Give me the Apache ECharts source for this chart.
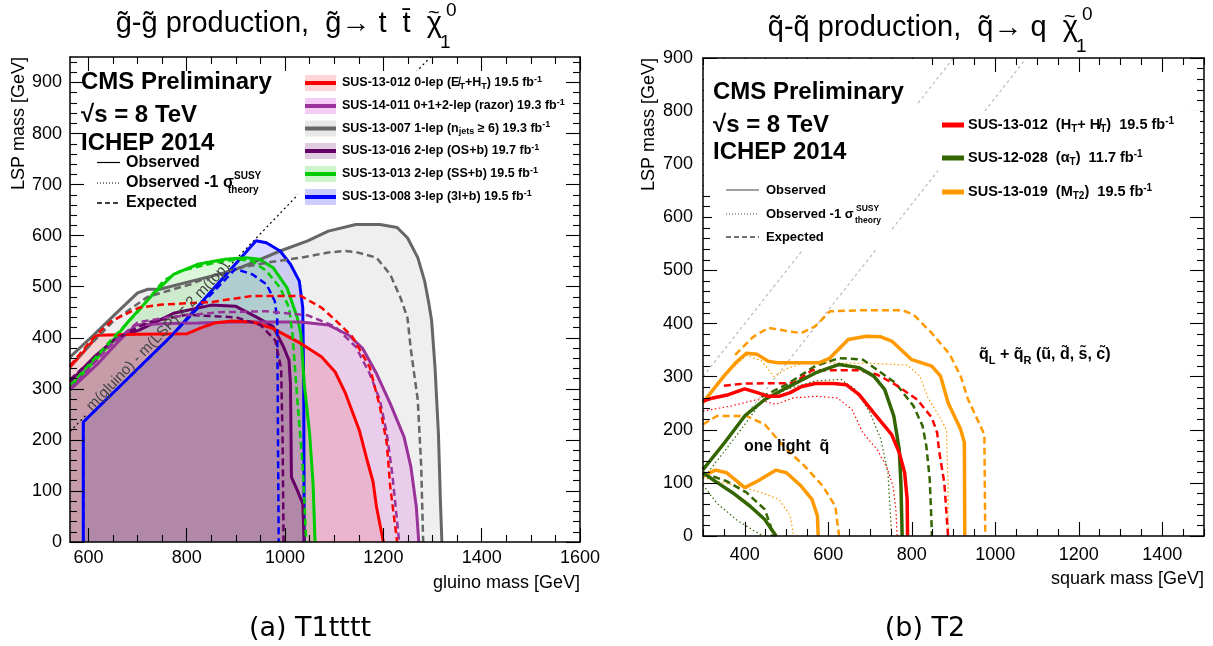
<!DOCTYPE html>
<html><head><meta charset="utf-8">
<script src="https://cdn.jsdelivr.net/npm/echarts@6.0.0/dist/echarts.min.js"></script>
<style>html,body{margin:0;padding:0;background:#fff;}#chart{width:1213px;height:646px;}</style>
</head><body><div id="chart"></div>
<script>
// ================= Tick labels =================
const xTicksL = [600, 800, 1000, 1200, 1400, 1600];
const yTicksL = [0, 100, 200, 300, 400, 500, 600, 700, 800, 900];
const xTicksR = [400, 600, 800, 1000, 1200, 1400];
const yTicksR = [0, 100, 200, 300, 400, 500, 600, 700, 800, 900];

// ================= Left panel (T1tttt): [gluino mass, LSP mass] =================
const sus13007Obs = [[562.5,362],[610,405],[654,446],[700,488],[721,495],[745,495],[822,514],[892,531],[934,547],[990,570],[1046,590],[1088,609],[1144,622],[1193,622],[1228,616],[1249,596],[1270,557],[1284,511],[1292,470],[1298,435],[1305,343],[1312,212],[1316,82],[1319,0]];
const sus13007Exp = [[562.5,345],[650,432],[720,480],[808,505],[843,518],[906,537],[962,547],[1032,557],[1088,567],[1123,570],[1144,568],[1186,557],[1214,524],[1235,478],[1249,439],[1256,376],[1270,278],[1277,147],[1281,0]];
const sus14011Obs = [[562.5,298],[620,350],[660,392],[696,425],[760,428],[822,429],[900,431],[962,431],[1032,431],[1088,425],[1130,405],[1158,379],[1186,330],[1214,271],[1242,206],[1256,147],[1267,69],[1272,0]];
const sus14011Exp = [[562.5,300],[650,390],[700,430],[760,440],[864,450],[960,452],[1046,444],[1102,422],[1144,382],[1172,330],[1193,278],[1207,212],[1218,134],[1225,69],[1232,0]];
const sus13012Obs = [[562.5,343],[590,372],[619,405],[700,407],[801,408],[830,420],[857,429],[892,433],[934,431],[976,418],[1032,389],[1074,363],[1102,333],[1123,291],[1151,219],[1165,167],[1179,118],[1186,69],[1200,0]];
const sus13012Exp = [[562.5,345],[610,400],[647,433],[703,459],[750,465],[850,470],[934,482],[1032,482],[1074,459],[1102,435],[1137,402],[1172,343],[1193,265],[1207,193],[1214,108],[1228,0]];
const sus13016Obs = [[562.5,314],[612,363],[661,402],[703,415],[773,448],[850,464],[899,462],[941,441],[976,422],[997,382],[1008,356],[1011,310],[1013,127],[1025,101],[1036,75],[1039,0]];
const sus13016Exp = [[562.5,318],[650,395],[720,430],[800,445],[900,440],[950,425],[980,395],[992,340],[995,200],[997,0]];
const sus13013Obs = [[562.5,302],[610,352],[650,395],[682,433],[731,485],[773,524],[822,544],[878,554],[920,557],[948,554],[976,537],[1004,498],[1025,439],[1032,408],[1039,310],[1050,212],[1057,114],[1061,0]];
const sus13013Exp = [[562.5,306],[650,400],[700,450],[752,511],[787,531],[857,547],[906,554],[934,550],[962,531],[990,498],[1008,459],[1015,408],[1025,278],[1036,147],[1043,0]];
const sus13008Obs = [[589.5,0],[589.5,235],[773,408],[941,590],[962,586],[990,570],[1011,544],[1029,511],[1036,459],[1038,300],[1039,0]];
const sus13008Exp = [[589.5,0],[589.5,235],[760,395],[899,535],[934,524],[962,505],[979,472],[984,439],[985,300],[987,0]];
const diagTopLow = [[562.5,216.5],[598,251.5]];
const diagTopHigh = [[885,539],[1296,950]];

// ================= Right panel (T2): [squark mass, LSP mass] =================
const htObs = [[300,254],[324,260],[361,266],[400,277],[430,270],[456,263],[482,263],[509,270],[535,281],[569,287],[613,287],[643,285],[674,266],[709,232],[752,191],[770,157],[783,119],[789,69],[790,0]];
const htExp = [[350,283],[400,287],[517,288],[561,312],[674,312],[717,304],[761,285],[813,257],[848,223],[861,194],[865,163],[878,100],[887,0]];
const htM1 = [[300,235],[368,245],[430,257],[474,248],[517,260],[569,263],[622,260],[657,238],[683,194],[717,163],[740,130],[755,95],[762,50],[765,0]];
const atObs = [[300,125],[352,176],[400,226],[448,257],[500,279],[569,307],[626,323],[674,317],[709,301],[735,276],[757,226],[770,163],[774,100],[777,0]];
const atObsLow = [[300,119],[335,100],[370,82],[413,56],[448,31],[475,0]];
const atExp = [[440,262],[500,285],[569,320],[626,335],[683,332],[717,313],[761,288],[804,245],[826,207],[835,169],[843,107],[848,13],[848,0]];
const atExpLow = [[300,119],[357,103],[404,82],[448,50],[462,19],[465,0]];
const atM1 = [[300,108],[352,160],[400,210],[439,252],[500,276],[569,292],[630,295],[665,276],[700,232],[726,182],[743,119],[752,0]];
const atM1Low = [[300,96],[333,62],[381,30],[420,11],[444,0]];
const mt2Obs = [[300,251],[350,301],[378,326],[404,344],[430,342],[456,329],[482,326],[543,326],[578,326],[604,335],[648,370],[691,376],[726,375],[752,367],[800,332],[848,320],[869,301],[887,251],[917,201],[926,176],[927,0]];
const mt2ObsLow = [[300,113],[330,124],[357,119],[400,91],[430,103],[474,124],[500,119],[535,94],[561,69],[574,38],[576,0]];
const mt2Exp = [[377,341],[420,375],[457,392],[500,386],[535,382],[569,395],[604,423],[674,425],[778,425],[804,417],[848,382],[891,342],[917,301],[935,257],[961,213],[974,191],[976,0]];
const mt2ExpLow = [[300,210],[333,226],[404,226],[448,210],[500,163],[543,132],[587,94],[617,56],[626,0]];
const mt2M1 = [[300,250],[350,300],[404,340],[440,330],[470,300],[500,315],[543,326],[600,326],[700,325],[790,322],[820,300],[839,260],[870,220],[883,200],[887,100],[887,0]];
const mt2M1Low = [[300,110],[350,100],[387,94],[439,82],[482,69],[509,38],[517,0]];
const diagEq = [[300,300],[900,900]];
const diagTop = [[300,125],[1075,900]];

// ================= helpers =================
const F = "'Liberation Sans', Arial, Helvetica, sans-serif";
function minors(min, max, step, majors) {
  const out = [];
  for (let v = Math.ceil(min / step) * step; v <= max + 1e-9; v += step) if (majors.indexOf(v) < 0) out.push(v);
  return out;
}
function ax(gi, pos, min, max, vals, len, label, line, margin) {
  return {
    type: 'value', gridIndex: gi, position: pos, min: min, max: max, z: 10,
    axisLine: {show: line, onZero: false, lineStyle: {color: '#000', width: 1.5}},
    axisTick: {show: true, inside: true, length: len, customValues: vals, lineStyle: {color: '#000', width: 1.1}},
    axisLabel: {show: label, customValues: vals, fontFamily: F, fontSize: 18, color: '#000', margin: margin,
      formatter: function (v) { return String(v); }},
    splitLine: {show: false}, minorTick: {show: false}, minorSplitLine: {show: false}
  };
}
const xAxes = [], yAxes = [];
function frame(gi, xmin, xmax, ymin, ymax, xM, yM, xm, ym, xMarg, yMarg) {
  xAxes.push(ax(gi, 'bottom', xmin, xmax, xM, 14, true, true, xMarg));
  xAxes.push(ax(gi, 'bottom', xmin, xmax, xm, 7, false, false, 0));
  xAxes.push(ax(gi, 'top', xmin, xmax, xM, 14, false, true, 0));
  xAxes.push(ax(gi, 'top', xmin, xmax, xm, 7, false, false, 0));
  yAxes.push(ax(gi, 'left', ymin, ymax, yM, 14, true, true, yMarg));
  yAxes.push(ax(gi, 'left', ymin, ymax, ym, 7, false, false, 0));
  yAxes.push(ax(gi, 'right', ymin, ymax, yM, 14, false, true, 0));
  yAxes.push(ax(gi, 'right', ymin, ymax, ym, 7, false, false, 0));
}
frame(0, 562.5, 1600, 0, 950, xTicksL, yTicksL, minors(562.5, 1600, 50, xTicksL), minors(0, 950, 20, yTicksL), 7, 8);
frame(1, 300, 1500, 0, 900, xTicksR, yTicksR, minors(300, 1500, 50, xTicksR), minors(0, 900, 20, yTicksR), 10, 10);

function S(data, gi, color, width, type, area, z) {
  const s = {type: 'line', xAxisIndex: gi * 4, yAxisIndex: gi * 4, data: data, symbol: 'none', silent: true,
    smooth: false, z: z || 3, animation: false, lineStyle: {color: color, width: width, type: type}};
  if (area) s.areaStyle = {color: area, origin: 'start'};
  return s;
}
const DASH = [7, 4], DOT = [1.5, 2.5];
const cRed = '#ff0000', cRaz = '#993399', cGray = '#666666', cOS = '#660066', cSS = '#00cc00', cBlue = '#0000ff';
const fRed = 'rgba(255,0,0,0.16)', fRaz = 'rgba(204,0,204,0.2)', fGray = 'rgba(102,102,102,0.15)',
      fOS = 'rgba(102,0,102,0.2)', fSS = 'rgba(0,204,0,0.2)', fBlue = 'rgba(0,0,255,0.2)';
const cR = '#ff0000', cG = '#336600', cO = '#ff9900';

const series = [
  S(sus13007Obs, 0, cGray, 3, 'solid', fGray),
  S(sus13008Obs, 0, cBlue, 3, 'solid', fBlue),
  S(sus13016Obs, 0, cOS, 3, 'solid', fOS),
  S(sus13013Obs, 0, cSS, 3, 'solid', fSS),
  S(sus14011Obs, 0, cRaz, 3, 'solid', fRaz),
  S(sus13012Obs, 0, cRed, 3, 'solid', fRed),
  S(sus13007Exp, 0, cGray, 2.5, DASH),
  S(sus13008Exp, 0, cBlue, 2.5, DASH),
  S(sus13016Exp, 0, cOS, 2.5, DASH),
  S(sus13013Exp, 0, cSS, 2.5, DASH),
  S(sus14011Exp, 0, cRaz, 2.5, DASH),
  S(sus13012Exp, 0, cRed, 2.5, DASH),
  S(diagTopLow, 0, '#000', 1.2, [2, 3]),
  S(diagTopHigh, 0, '#000', 1.2, [2, 3], null, 1),
  S(diagEq, 1, '#bbbbbb', 1.2, [3, 3], null, 1),
  S(diagTop, 1, '#bbbbbb', 1.2, [3, 3], null, 1),
  S(mt2M1, 1, cO, 1.2, DOT), S(mt2M1Low, 1, cO, 1.2, DOT),
  S(atM1, 1, cG, 1.2, DOT), S(atM1Low, 1, cG, 1.2, DOT),
  S(htM1, 1, cR, 1.2, DOT),
  S(mt2Exp, 1, cO, 2.5, DASH), S(mt2ExpLow, 1, cO, 2.5, DASH),
  S(atExp, 1, cG, 2.5, DASH), S(atExpLow, 1, cG, 2.5, DASH),
  S(htExp, 1, cR, 2.5, DASH),
  S(mt2Obs, 1, cO, 3.5, 'solid'), S(mt2ObsLow, 1, cO, 3.5, 'solid'),
  S(atObs, 1, cG, 3.5, 'solid'), S(atObsLow, 1, cG, 3.5, 'solid'),
  S(htObs, 1, cR, 3.5, 'solid')
];

const chart = echarts.init(document.getElementById('chart'), null, {renderer: 'canvas'});
chart.setOption({
  animation: false,
  backgroundColor: '#ffffff',
  grid: [{left: 70, top: 57, width: 510, height: 485}, {left: 703, top: 58, width: 501, height: 478}],
  xAxis: xAxes, yAxis: yAxes, series: series
});

// ================= annotations =================
function T(x, y, text, size, o) {
  o = o || {};
  const st = {text: text, fontFamily: o.family || F, fontSize: size, fontWeight: o.weight || 'normal',
    fill: o.color || '#000', align: o.align || 'left', verticalAlign: o.va || 'middle'};
  if (o.rich) { st.rich = o.rich; st.lineHeight = o.lh || size + 6; }
  return {type: 'text', x: x, y: y, rotation: o.rot || 0, z: o.z || 30, silent: true, style: st};
}
function R(x, y, w, h, fill, z) { return {type: 'rect', z: z || 25, silent: true, shape: {x: x, y: y, width: w, height: h}, style: {fill: fill}}; }
function L(x1, y1, x2, y2, color, w, dash, z) {
  return {type: 'line', z: z || 30, silent: true, shape: {x1: x1, y1: y1, x2: x2, y2: y2},
    style: {stroke: color, lineWidth: w, lineDash: dash || null}};
}
function richFor(size) {
  const s = Math.round(size * 0.68);
  return {
    sub: {fontSize: s, fontWeight: 'bold', fontFamily: F, lineHeight: s, verticalAlign: 'bottom'},
    sup: {fontSize: s, fontWeight: 'bold', fontFamily: F, lineHeight: s, verticalAlign: 'top'}
  };
}
const G = [];
// titles
G.push(T(442, 24, 'g\u0303-g\u0303 production,  g\u0303\u2192 t  t\u0304  \u03c7', 29, {align: 'right'}));
G.push(T(428, 13, '~', 20));
G.push(T(446, 11, '0', 19));
G.push(T(440, 43, '1', 19));
G.push(T(1078, 28, 'q\u0303-q\u0303 production,  q\u0303\u2192 q  \u03c7', 29, {align: 'right'}));
G.push(T(1064, 17, '~', 20));
G.push(T(1082, 15, '0', 19));
G.push(T(1076, 47, '1', 19));
// captions
G.push(T(310, 629, '(a) T1tttt', 27, {family: "'DejaVu Sans', sans-serif", align: 'center'}));
G.push(T(925, 629, '(b) T2', 27, {family: "'DejaVu Sans', sans-serif", align: 'center'}));
// axis titles
G.push(T(580, 583, 'gluino mass [GeV]', 18, {align: 'right'}));
G.push(T(1204, 579, 'squark mass [GeV]', 18, {align: 'right'}));
G.push(T(19, 57, 'LSP mass [GeV]', 18, {align: 'right', rot: Math.PI / 2}));
G.push(T(649, 58, 'LSP mass [GeV]', 18, {align: 'right', rot: Math.PI / 2}));

// ---- left panel text ----
G.push(R(298, 71, 266, 134, '#ffffff'));
G.push(T(81, 82, 'CMS Preliminary', 24, {weight: 'bold'}));
G.push(T(81, 115, '\u221As = 8 TeV', 24, {weight: 'bold'}));
G.push(T(81, 143, 'ICHEP 2014', 24, {weight: 'bold'}));
const keyY_L = [162.5, 183, 203];
G.push(L(97, keyY_L[0], 120, keyY_L[0], '#000', 1.2));
G.push(L(97, keyY_L[1], 120, keyY_L[1], '#000', 1.2, [1, 2]));
G.push(L(97, keyY_L[2], 120, keyY_L[2], '#000', 1.5, [5, 3]));
G.push(T(126, keyY_L[0], 'Observed', 16, {weight: 'bold'}));
G.push(T(126, keyY_L[1], 'Observed -1 \u03c3', 16, {weight: 'bold'}));
G.push(T(234, keyY_L[1] - 7, 'SUSY', 10, {weight: 'bold'}));
G.push(T(228, keyY_L[1] + 7, 'theory', 10, {weight: 'bold'}));
G.push(T(126, keyY_L[2], 'Expected', 16, {weight: 'bold'}));

const legL = [
  {line: cRed, fill: fRed, text: 'SUS-13-012 0-lep (E\u0338{sub|T}+H{sub|T}) 19.5 fb{sup|-1}'},
  {line: cRaz, fill: fRaz, text: 'SUS-14-011 0+1+2-lep (razor) 19.3 fb{sup|-1}'},
  {line: cGray, fill: fGray, text: 'SUS-13-007 1-lep (n{sub|jets} \u2265 6) 19.3 fb{sup|-1}'},
  {line: cOS, fill: fOS, text: 'SUS-13-016 2-lep (OS+b) 19.7 fb{sup|-1}'},
  {line: cSS, fill: fSS, text: 'SUS-13-013 2-lep (SS+b) 19.5 fb{sup|-1}'},
  {line: cBlue, fill: fBlue, text: 'SUS-13-008 3-lep (3l+b) 19.5 fb{sup|-1}'}
];
const rowY_L = [83, 106, 128.5, 151, 174, 197];
legL.forEach(function (e, i) {
  const y = rowY_L[i];
  G.push(R(305, y - 8, 31, 16, e.fill, 28));
  G.push(L(305, y, 336, y, e.line, 4, null, 29));
  G.push(T(342, y, e.text, 12.5, {weight: 'bold', rich: richFor(12.5), lh: 16}));
});

// ---- right panel text ----
G.push(R(704, 59, 213, 130, '#ffffff'));
G.push(R(712, 178, 178, 72, '#ffffff'));
G.push(R(938, 111, 262, 99, '#ffffff'));
G.push(T(713, 92, 'CMS Preliminary', 24, {weight: 'bold'}));
G.push(T(713, 125, '\u221As = 8 TeV', 24, {weight: 'bold'}));
G.push(T(713, 152, 'ICHEP 2014', 24, {weight: 'bold'}));
const keyY_R = [190, 214, 237];
G.push(L(726, keyY_R[0], 759, keyY_R[0], '#444', 1.2));
G.push(L(726, keyY_R[1], 759, keyY_R[1], '#444', 1.2, [1, 2]));
G.push(L(726, keyY_R[2], 759, keyY_R[2], '#444', 1.5, [5, 3]));
G.push(T(766, keyY_R[0], 'Observed', 13, {weight: 'bold'}));
G.push(T(766, keyY_R[1], 'Observed -1 \u03c3', 13, {weight: 'bold'}));
G.push(T(856, keyY_R[1] - 5, 'SUSY', 8.5, {weight: 'bold'}));
G.push(T(855, keyY_R[1] + 7, 'theory', 8.5, {weight: 'bold'}));
G.push(T(766, keyY_R[2], 'Expected', 13, {weight: 'bold'}));
const legR = [
  {line: cR, text: 'SUS-13-012  (H{sub|T}+ H\u0338{sub|T})  19.5 fb{sup|-1}'},
  {line: cG, text: 'SUS-12-028  (\u03b1{sub|T})  11.7 fb{sup|-1}'},
  {line: cO, text: 'SUS-13-019  (M{sub|T2})  19.5 fb{sup|-1}'}
];
const rowY_R = [125, 158, 192];
legR.forEach(function (e, i) {
  const y = rowY_R[i];
  G.push(L(942, y, 964, y, e.line, 5, null, 29));
  G.push(T(968, y, e.text, 14.5, {weight: 'bold', rich: richFor(14.5), lh: 18}));
});
G.push(T(979, 355, 'q\u0303{sub|L} + q\u0303{sub|R} (\u0169, d\u0303, s\u0303, c\u0303)', 16, {weight: 'bold', rich: richFor(16), lh: 22}));
G.push(T(744, 447, 'one light  q\u0303', 16, {weight: 'bold'}));

// rotated kinematic-limit label, anchored through the axis scales
const p = chart.convertToPixel({xAxisIndex: 0, yAxisIndex: 0}, [742, 402]);
const p1 = chart.convertToPixel({xAxisIndex: 0, yAxisIndex: 0}, [600, 0]);
const p2 = chart.convertToPixel({xAxisIndex: 0, yAxisIndex: 0}, [700, 100]);
const ang = Math.atan2(p1[1] - p2[1], p2[0] - p1[0]);
G.push(T(p[0], p[1], 'm(gluino) - m(LSP) = 2 m(top)', 15, {align: 'center', rot: ang, color: '#444'}));

chart.setOption({graphic: {elements: G}});
</script></body></html>
